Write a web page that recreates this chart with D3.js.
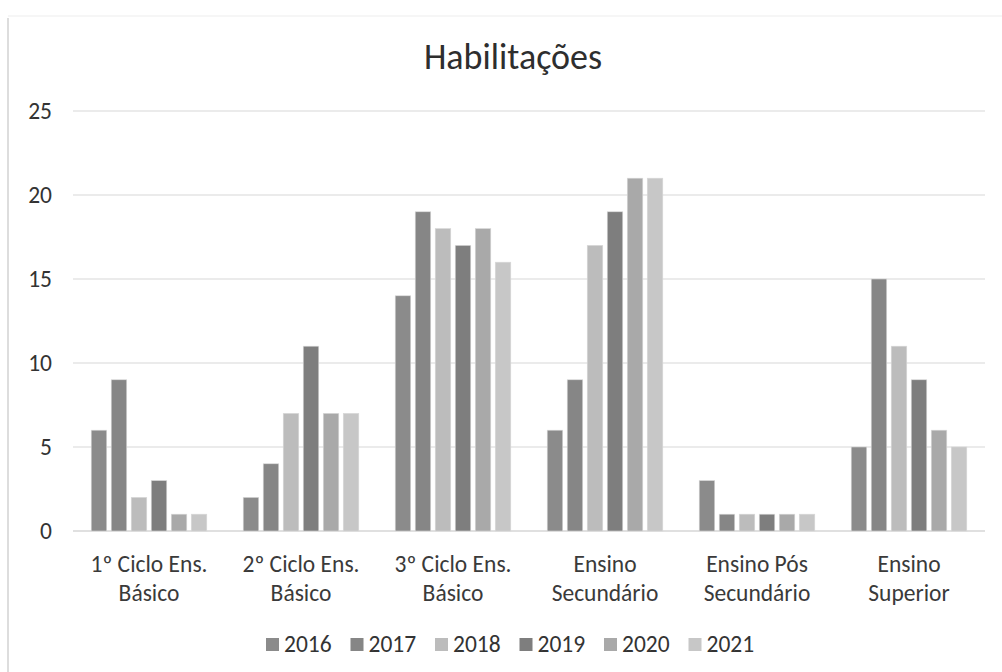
<!DOCTYPE html>
<html>
<head>
<meta charset="utf-8">
<script src="https://cdn.jsdelivr.net/npm/d3@7"></script>
<style>
  html, body { margin: 0; padding: 0; background: #fff; }
  svg { display: block; }
  text { font-family: Carlito, Calibri, "Open Sans", sans-serif; fill: #3a3a3a; }
</style>
</head>
<body>
<svg id="chart" width="1002" height="672"></svg>
<script>
// Education levels (two-line labels) and yearly counts
const categories = [
  ["1º Ciclo Ens.", "Básico"],
  ["2º Ciclo Ens.", "Básico"],
  ["3º Ciclo Ens.", "Básico"],
  ["Ensino", "Secundário"],
  ["Ensino Pós", "Secundário"],
  ["Ensino", "Superior"]
];
const years = ["2016", "2017", "2018", "2019", "2020", "2021"];
const values2016 = [6, 2, 14, 6, 3, 5];
const values2017 = [9, 4, 19, 9, 1, 15];
const values2018 = [2, 7, 18, 17, 1, 11];
const values2019 = [3, 11, 17, 19, 1, 9];
const values2020 = [1, 7, 18, 21, 1, 6];
const values2021 = [1, 7, 16, 21, 1, 5];
const yTicks = [0, 5, 10, 15, 20, 25];
const seriesColors = ["#8b8b8b", "#868686", "#bcbcbc", "#7e7e7e", "#a9a9a9", "#c7c7c7"];

const series = [values2016, values2017, values2018, values2019, values2020, values2021];
const catKeys = categories.map(c => c.join(" "));
const FONT = 'Carlito, Calibri, "Open Sans", sans-serif';
const AXIS_SIZE = 23.5;

const svg = d3.select("#chart");

// page frame
svg.append("line").attr("x1", 8).attr("x2", 8).attr("y1", 18).attr("y2", 672)
  .attr("stroke", "#d2d2d2").attr("stroke-width", 1.5);
svg.append("line").attr("x1", 8).attr("x2", 1002).attr("y1", 16).attr("y2", 16)
  .attr("stroke", "#ededed").attr("stroke-width", 1);

const plot = { left: 73, right: 985, top: 111, bottom: 531 };

const y = d3.scaleLinear().domain([0, 25]).range([plot.bottom, plot.top]);
const x0 = d3.scaleBand().domain(catKeys).range([plot.left, plot.right]).padding(0);
const x1 = d3.scaleBand().domain(years).range([0, x0.bandwidth()])
  .paddingInner(0.225).paddingOuter(0.91);

// gridlines
svg.append("g").selectAll("line").data(yTicks).join("line")
  .attr("x1", plot.left).attr("x2", plot.right)
  .attr("y1", d => y(d)).attr("y2", d => y(d))
  .attr("stroke", d => d === 0 ? "#d6d6d6" : "#e4e4e4").attr("stroke-width", 1.5);

// y axis labels
const yAxis = d3.axisLeft(y).tickValues(yTicks).tickSize(0).tickPadding(0);
const gy = svg.append("g").attr("transform", `translate(${plot.left - 21},0)`).call(yAxis);
gy.select(".domain").remove();
gy.selectAll("text").attr("font-size", AXIS_SIZE).style("fill", "#333")
  .style("font-family", FONT);

// bars
const groups = svg.append("g").selectAll("g").data(catKeys).join("g")
  .attr("transform", d => `translate(${x0(d)},0)`);
groups.selectAll("rect")
  .data((d, i) => years.map((yr, s) => ({ yr, s, v: series[s][i] })))
  .join("rect")
  .attr("x", d => x1(d.yr))
  .attr("width", x1.bandwidth())
  .attr("y", d => y(d.v))
  .attr("height", d => y(0) - y(d.v))
  .attr("fill", d => seriesColors[d.s])
  .attr("stroke", "#d8d8d8").attr("stroke-width", 0.6);

// category labels
const xl = svg.append("g");
categories.forEach((c, i) => {
  const cx = x0(catKeys[i]) + x0.bandwidth() / 2;
  const t = xl.append("text").attr("text-anchor", "middle").attr("font-size", AXIS_SIZE)
    .attr("x", cx).attr("y", 572);
  t.append("tspan").attr("x", cx).text(c[0]);
  t.append("tspan").attr("x", cx).attr("dy", 28.5).text(c[1]);
});

// title
svg.append("text").attr("x", 513).attr("y", 69).attr("text-anchor", "middle")
  .attr("font-size", 36).style("fill", "#2e2e2e").text("Habilitações");

// legend
const legend = svg.append("g");
const legendX = 266, legendStep = 84.5;
years.forEach((yr, s) => {
  const lx = legendX + s * legendStep;
  legend.append("rect").attr("x", lx).attr("y", 638).attr("width", 13).attr("height", 13)
    .attr("fill", seriesColors[s]);
  legend.append("text").attr("x", lx + 18).attr("y", 652).attr("font-size", AXIS_SIZE)
    .style("fill", "#333").text(yr);
});
</script>
</body>
</html>
